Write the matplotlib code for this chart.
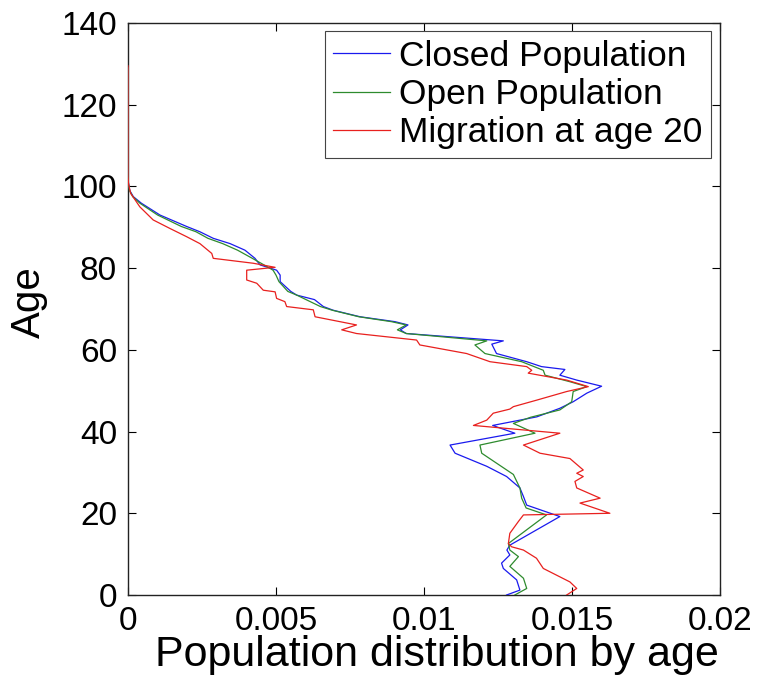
import matplotlib
matplotlib.use("Agg")
import matplotlib.pyplot as plt

plt.rcParams['font.family'] = ['Liberation Sans', 'DejaVu Sans']

# Closed population
closed_age = [0, 1.2, 3.7, 6.5, 7.8, 9.8, 11, 12.2, 19.2, 22, 24.1, 26.2, 29, 31.5,
              34.7, 36.7, 39.6, 41.5, 43.6, 45.7, 47.3, 49.4, 51.1, 52.6, 53.8, 55.2,
              55.9, 57.1, 59.1, 61.4, 62.2, 64.0, 64.9, 66.1, 66.9, 68.1, 69.7, 70.6,
              72.3, 73.4, 74.3, 76.7, 78.3, 79.5, 80.8, 82.4, 84.4, 86, 87.3, 88.9,
              90.2, 93, 95.9, 97.5, 99, 101, 103, 129]
closed_val = [0.01279, 0.01324, 0.01313, 0.01268, 0.01262, 0.0129, 0.0128, 0.0129,
              0.01459, 0.01347, 0.01336, 0.01324, 0.01279, 0.01212, 0.01105, 0.01088,
              0.01307, 0.01232, 0.01381, 0.01459, 0.01504, 0.0155, 0.0160, 0.01516,
              0.01459, 0.01476, 0.01397, 0.01347, 0.01245, 0.01229, 0.01268, 0.0094,
              0.0092, 0.00946, 0.00902, 0.00784, 0.00693, 0.0066, 0.0063, 0.0057,
              0.0055, 0.00514, 0.00514, 0.00502, 0.00446, 0.00429, 0.00395, 0.00345,
              0.00288, 0.00243, 0.00198, 0.00108, 0.00045, 0.00018, 0.00006, 0.00001,
              0.0, 0.0]

# Open population
open_age = [0, 1.6, 4.1, 7, 9.4, 11, 12.6, 19.6, 21.3, 23.7, 26.2, 29.5, 34.7, 36.7,
            39.6, 42, 43.5, 45.3, 47.3, 49.8, 51, 52.2, 53.8, 55, 57.1, 59.1, 61.2,
            62.2, 64, 64.9, 66.1, 66.9, 68.1, 69.7, 70.6, 73.4, 74.3, 76.7, 78.3,
            79.5, 80.4, 82.4, 84.4, 86, 87.3, 88.9, 90.2, 93, 95.9, 97.5, 99, 101, 103, 129]
open_val = [0.01307, 0.01347, 0.01336, 0.0129, 0.01319, 0.0129, 0.01285, 0.01414,
            0.01345, 0.0133, 0.01324, 0.01302, 0.01195, 0.01189, 0.01375, 0.01302,
            0.0136, 0.01459, 0.01499, 0.01504, 0.0155, 0.01493, 0.01409, 0.01403,
            0.0133, 0.01206, 0.01172, 0.01212, 0.0094, 0.0091, 0.0094, 0.0089, 0.0078,
            0.0069, 0.0065, 0.0057, 0.0054, 0.0051, 0.0050, 0.0049, 0.00469, 0.0042,
            0.0037, 0.0032, 0.0027, 0.0023, 0.0018, 0.0010, 0.0004, 0.00016, 0.00005,
            0.00001, 0.0, 0.0]

# Migration at age 20
migr_age = [0, 1.6, 3.2, 6.5, 9, 11, 11.8, 12.6, 15.1, 18, 19.6, 20, 22.5, 23.7,
            26.2, 27.8, 29, 29.8, 30.6, 33.4, 34.7, 36.7, 39.6, 41.5, 42.8, 44.5,
            45.5, 46.1, 47.7, 49.8, 51, 52.6, 54.3, 55, 55.9, 57.1, 59.1, 61.2, 62.4,
            64, 64.9, 66.1, 68.1, 69.8, 70.6, 71.8, 72.6, 74.2, 74.6, 76.3, 77.1,
            79.5, 80.2, 81.2, 82.4, 83.6, 86, 87.7, 89.7, 91.8, 95, 98.3, 100.5, 102.5, 129.5]
migr_val = [0.01482, 0.01516, 0.01493, 0.01403, 0.0138, 0.01336, 0.01296, 0.01285,
            0.0129, 0.01319, 0.01336, 0.01628, 0.01527, 0.01595, 0.01516, 0.0151,
            0.01538, 0.01516, 0.01538, 0.01493, 0.01392, 0.01336, 0.01459, 0.01167,
            0.01212, 0.01234, 0.0129, 0.01302, 0.01381, 0.01482, 0.01555, 0.01482,
            0.01352, 0.01364, 0.01347, 0.01223, 0.01144, 0.00986, 0.00975, 0.00772,
            0.00722, 0.00772, 0.00632, 0.00626, 0.00536, 0.0053, 0.00502, 0.00497,
            0.00457, 0.00435, 0.00401, 0.00401, 0.00497, 0.00423, 0.00288, 0.00283,
            0.00243, 0.00198, 0.00142, 0.00085, 0.0004, 0.00009, 0.00002, 0.0, 0.0]

labels = ["Closed Population", "Open Population", "Migration at age 20"]
colors = ["#1a1aee", "#2e8b2e", "#e8201e"]

xticks = [0, 0.005, 0.01, 0.015, 0.02]
xticklabels = ["0", "0.005", "0.01", "0.015", "0.02"]
yticks = [0, 20, 40, 60, 80, 100, 120, 140]

fig = plt.figure(figsize=(7.6, 6.77), dpi=100)
ax = fig.add_axes([128/760, 82/677, 592/760, 572/677])

ax.plot(closed_val, closed_age, color=colors[0], lw=0.9, label=labels[0], zorder=3)
ax.plot(open_val, open_age, color=colors[1], lw=0.9, label=labels[1], zorder=3)
ax.plot(migr_val, migr_age, color=colors[2], lw=0.9, label=labels[2], zorder=3)

ax.set_xlim(0, 0.02)
ax.set_ylim(0, 140)
ax.set_xticks(xticks)
ax.set_xticklabels(xticklabels)
ax.set_yticks(yticks)
ax.tick_params(direction='in', top=True, right=True, length=6, width=0.8,
               labelsize=24, pad=8, colors='black')
for s in ax.spines.values():
    s.set_linewidth(1.0)
    s.set_color('#222222')
    s.set_zorder(2)

ax.set_xlabel("Population distribution by age", fontsize=31)
ax.xaxis.set_label_coords(0.522, -0.070)
ax.set_ylabel("Age", fontsize=29)
ax.yaxis.set_label_coords(-0.135, 0.512)

leg = ax.legend(loc='upper right', bbox_to_anchor=(0.985, 0.986), borderaxespad=0,
                fontsize=25.5, fancybox=False, framealpha=1, edgecolor='#444444',
                handlelength=1.6, handletextpad=0.25, borderpad=0.25, labelspacing=0.15)
leg.get_frame().set_linewidth(0.8)
leg.set_zorder(5)

fig.savefig("out.png", dpi=100)
